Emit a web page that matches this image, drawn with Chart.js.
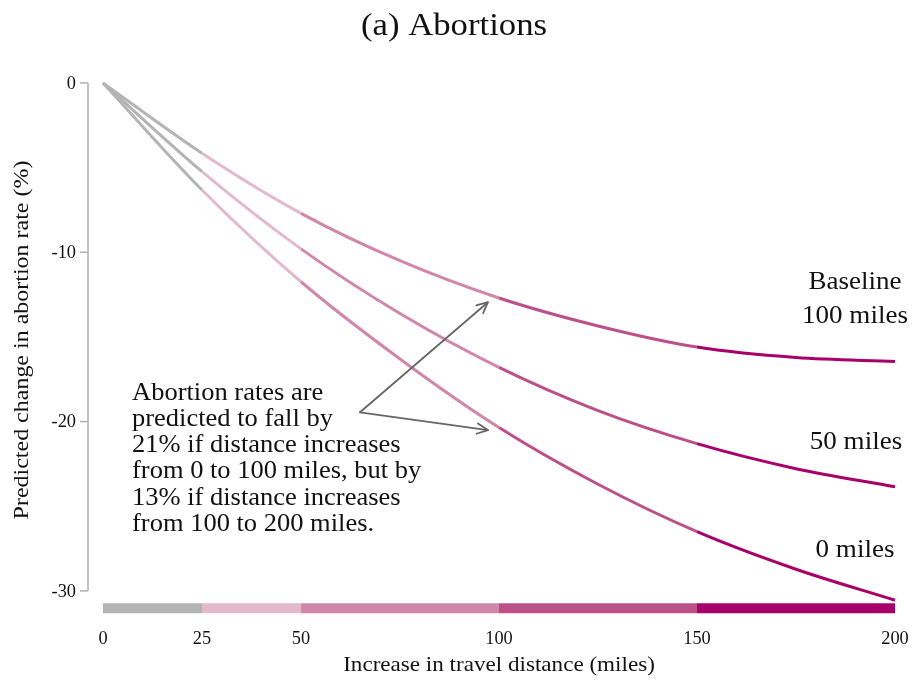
<!DOCTYPE html>
<html>
<head>
<meta charset="utf-8">
<script src="https://cdn.jsdelivr.net/npm/chart.js@4/dist/chart.umd.min.js"></script>
<style>
html,body{margin:0;padding:0;background:#fff;}
#wrap{width:912px;height:683px;position:relative;}
</style>
</head>
<body>
<div id="wrap"><canvas id="c" width="912" height="683"></canvas></div>
<script>
// ---- data ----
const distances   = [0, 25, 50, 75, 100, 125, 150, 175, 200];
const baseline100 = [0, -4.15, -7.7, -10.5, -12.7, -14.35, -15.6, -16.22, -16.45];
const baseline50  = [0, -5.24, -9.8, -13.62, -16.8, -19.35, -21.3, -22.78, -23.85];
const baseline0   = [0, -6.32, -11.74, -16.3, -20.35, -23.7, -26.5, -28.72, -30.55];
const xTicks      = [0, 25, 50, 100, 150, 200];
const yTicks      = [0, -10, -20, -30];
const bandStops   = [0, 25, 50, 100, 150, 200];
const bandColors  = ['#b4b4b4', '#e3b9cc', '#d087aa', '#bc5089', '#a8006a'];
const seriesLabels = [["Baseline", "100 miles"], ["50 miles"], ["0 miles"]];
const noteLines = [
  "Abortion rates are",
  "predicted to fall by",
  "21% if distance increases",
  "from 0 to 100 miles, but by",
  "13% if distance increases",
  "from 100 to 200 miles."
];
// arrow annotation in data coordinates: [fromX, fromY, toX, toY]
const arrows = [[64.9, -19.45, 97.2, -12.95], [64.9, -19.45, 97.2, -20.5]];

const SERIF = '"Liberation Serif", "Times New Roman", "DejaVu Serif", serif';

function bandColor(x) {
  for (let i = bandStops.length - 2; i >= 0; i--) {
    if (x >= bandStops[i] - 1e-9) return bandColors[i];
  }
  return bandColors[0];
}
function pts(ys) { return distances.map((d, i) => ({x: d, y: ys[i]})); }

const segStyle = { borderColor: ctx => bandColor(ctx.p0.parsed.x) };
function lineDs(ys) {
  return {
    data: pts(ys), borderWidth: 3, pointRadius: 0, fill: false,
    cubicInterpolationMode: 'monotone', segment: segStyle, clip: false,
    borderCapStyle: 'butt', borderColor: bandColors[4]
  };
}

const bandDs = {
  data: bandStops.map(s => ({x: s, y: -31.02})),
  borderWidth: 10, pointRadius: 0, fill: false, tension: 0,
  segment: segStyle, clip: false, borderCapStyle: 'butt', borderColor: bandColors[4]
};

function txt(c, s, x, y, size, sx) {
  c.save();
  c.translate(x, y);
  c.scale(sx, 1);
  c.font = size + 'px ' + SERIF;
  c.fillText(s, 0, 0);
  c.restore();
}

const decor = {
  id: 'decor',
  afterDraw(chart) {
    const c = chart.ctx, xs = chart.scales.x, ys = chart.scales.y;
    c.save();
    c.fillStyle = '#111';
    // title
    c.textAlign = 'center'; c.textBaseline = 'alphabetic';
    txt(c, '(a) Abortions', 454, 35, 31, 1.12);

    // y axis line and ticks
    const axX = xs.left - 15;
    c.strokeStyle = '#b0b0b0'; c.lineWidth = 1.5;
    c.beginPath();
    c.moveTo(axX, ys.getPixelForValue(0));
    c.lineTo(axX, ys.getPixelForValue(-30));
    c.stroke();
    c.textAlign = 'right'; c.textBaseline = 'middle';
    yTicks.forEach(t => {
      const py = ys.getPixelForValue(t);
      c.beginPath(); c.moveTo(axX - 8, py); c.lineTo(axX, py); c.stroke();
      txt(c, String(t), axX - 12, py + 1, 18, 1.02);
    });
    // x tick labels
    c.textAlign = 'center';
    xTicks.forEach(t => txt(c, String(t), xs.getPixelForValue(t), 639, 18, 1.02));
    // axis titles
    txt(c, 'Increase in travel distance (miles)', (xs.left + xs.right) / 2, 665, 22, 1.05);
    c.save();
    c.translate(22, 340);
    c.rotate(-Math.PI / 2);
    txt(c, 'Predicted change in abortion rate (%)', 0, 0, 22, 1.09);
    c.restore();

    // right series labels
    c.textAlign = 'center'; c.textBaseline = 'alphabetic';
    txt(c, seriesLabels[0][0], 855, 289, 25.5, 1.06);
    txt(c, seriesLabels[0][1], 855, 323, 25.5, 1.06);
    txt(c, seriesLabels[1][0], 856, 449, 25.5, 1.06);
    txt(c, seriesLabels[2][0], 855, 557, 25.5, 1.06);

    // note
    c.textAlign = 'left';
    noteLines.forEach((ln, i) => txt(c, ln, 132, 399.5 + i * 26.3, 25, 1.06));

    // arrows
    c.strokeStyle = '#666'; c.lineWidth = 1.8; c.lineCap = 'round'; c.lineJoin = 'round';
    arrows.forEach(a => {
      const x1 = xs.getPixelForValue(a[0]), y1 = ys.getPixelForValue(a[1]);
      const x2 = xs.getPixelForValue(a[2]), y2 = ys.getPixelForValue(a[3]);
      c.beginPath(); c.moveTo(x1, y1); c.lineTo(x2, y2); c.stroke();
      const ang = Math.atan2(y2 - y1, x2 - x1), L = 12, w = 0.45;
      c.beginPath();
      c.moveTo(x2 - L * Math.cos(ang - w), y2 - L * Math.sin(ang - w));
      c.lineTo(x2, y2);
      c.lineTo(x2 - L * Math.cos(ang + w), y2 - L * Math.sin(ang + w));
      c.stroke();
    });
    c.restore();
  }
};

new Chart(document.getElementById('c'), {
  type: 'line',
  data: { datasets: [bandDs, lineDs(baseline0), lineDs(baseline50), lineDs(baseline100)] },
  options: {
    responsive: false, animation: false,
    layout: { padding: { left: 103, right: 17, top: 72.8, bottom: 65 } },
    plugins: { legend: { display: false }, tooltip: { enabled: false }, title: { display: false } },
    scales: {
      x: { type: 'linear', min: 0, max: 200, display: false },
      y: { type: 'linear', min: -31.6, max: 0.6, display: false }
    }
  },
  plugins: [decor]
});
</script>
</body>
</html>
